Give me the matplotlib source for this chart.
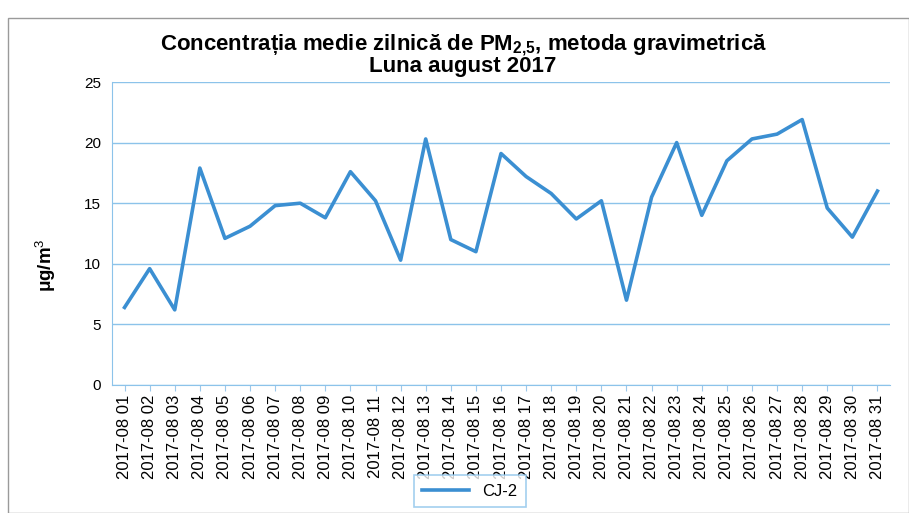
import matplotlib
matplotlib.use("Agg")
import matplotlib.pyplot as plt
from matplotlib.patches import Rectangle

plt.rcParams['font.family'] = ['Liberation Sans', 'DejaVu Sans']
plt.rcParams['mathtext.fontset'] = 'custom'
plt.rcParams['mathtext.rm'] = 'Liberation Sans'
plt.rcParams['mathtext.bf'] = 'Liberation Sans:bold'
plt.rcParams['mathtext.it'] = 'Liberation Sans:italic'

days = [f"2017-08 {d:02d}" for d in range(1, 32)]
cj2 = [6.4, 9.6, 6.2, 17.9, 12.1, 13.1, 14.8, 15.0, 13.8, 17.6,
       15.2, 10.3, 20.3, 12.0, 11.0, 19.1, 17.2, 15.8, 13.7, 15.2,
       7.0, 15.5, 20.0, 14.0, 18.5, 20.3, 20.7, 21.9, 14.6, 12.2, 16.0]
yticks = [0, 5, 10, 15, 20, 25]

W, H = 909, 513
fig = plt.figure(figsize=(W / 100, H / 100), dpi=100)

# chart frame
fig.patches.append(Rectangle((8 / W, 0), (W - 8) / W, 1 - 18 / H,
                             transform=fig.transFigure, fill=False,
                             edgecolor='#9a9a9a', linewidth=1.0))

ax = fig.add_axes([112 / W, 1 - 385 / H, (890 - 112) / W, (385 - 82) / H])
x = list(range(len(days)))
ax.plot(x, cj2, color='#3b8fd2', linewidth=2.6, label='CJ-2')
ax.set_xlim(-0.5, len(days) - 0.5)
ax.set_ylim(0, 25)
ax.set_yticks(yticks)
ax.set_yticklabels([str(v) for v in yticks], fontsize=11)
ax.set_xticks(x)
ax.set_xticklabels(days, rotation=90, fontsize=12)
ax.yaxis.grid(True, color='#8cc3ea', linewidth=1.0)
ax.set_axisbelow(True)
for s in ['top', 'right']:
    ax.spines[s].set_visible(False)
ax.spines['left'].set_color('#8cc3ea')
ax.spines['bottom'].set_color('#8cc3ea')
ax.tick_params(axis='y', length=0, pad=8)
ax.tick_params(axis='x', length=4, color='#9cc8ea', pad=3)

ax.set_ylabel('μg/m$^3$', fontsize=13.5, fontweight='bold')
ax.yaxis.set_label_coords(-0.069, 0.396)

fig.text(463 / W, 1 - 45 / H,
         'Concentrația medie zilnică de PM$_{\\mathbf{2{,}5}}$, metoda gravimetrică',
         ha='center', va='center', fontsize=16, fontweight='bold')
fig.text(463 / W, 1 - 67 / H, 'Luna august 2017',
         ha='center', va='center', fontsize=16, fontweight='bold')

leg = fig.legend(loc='center', bbox_to_anchor=(470 / W, 1 - 491 / H),
                 fontsize=12, frameon=True, fancybox=False,
                 handlelength=2.8, borderpad=0.5)
leg.get_frame().set_edgecolor('#8cc3ea')
leg.get_frame().set_linewidth(1.2)

fig.savefig('out.png', dpi=100)
